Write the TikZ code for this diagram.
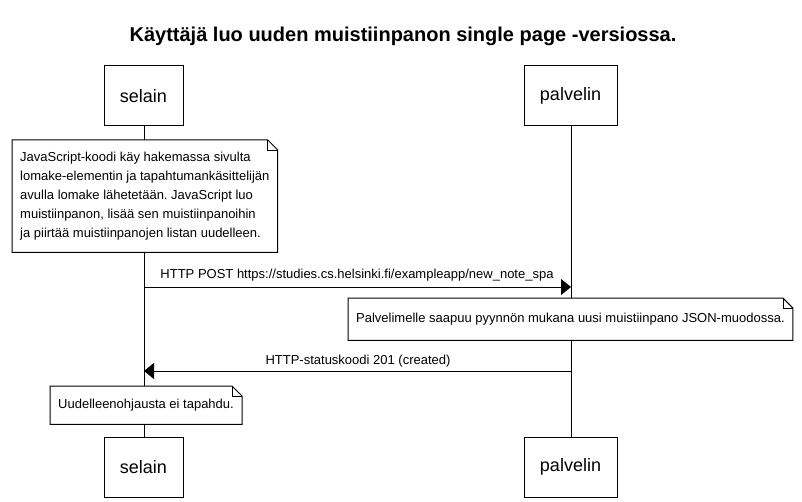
\documentclass[tikz,border=0pt]{standalone}
\usepackage{fontspec}
\setmainfont{Liberation Sans}
\frenchspacing
\usetikzlibrary{arrows.meta}
\begin{document}
\begin{tikzpicture}[x=1pt,y=-1pt,
  actor/.style={draw, fill=white, line width=1pt, inner sep=0pt,
    minimum height=60pt, font=\fontsize{18}{21}\selectfont},
  notebox/.style={fill=white, inner xsep=8pt, inner ysep=0pt, anchor=north west,
    align=left, font=\fontsize{13}{19}\selectfont},
  lifeline/.style={line width=1pt},
  msg/.style={line width=1pt, -{Triangle[length=10pt,width=16pt]}},
  msglabel/.style={font=\fontsize{13}{15}\selectfont, anchor=south, inner sep=0pt},
  notebord/.style={line width=1pt, line join=miter},
  fold/.style={line width=0.6pt}
]
\useasboundingbox (0,0) rectangle (802,502);
\fill[white] (0,0) rectangle (802,502);

\node[font=\bfseries\fontsize{20}{24}\selectfont] (title) at (403,36) {Käyttäjä luo uuden muistiinpanon single page -versiossa.};

% actors
\node[actor, minimum width=79pt] (s1) at (143.5,96) {selain};
\node[actor, minimum width=93pt] (p1) at (570.5,96) {palvelin};
\node[actor, minimum width=79pt] (s2) at (143.5,467) {selain};
\node[actor, minimum width=93pt] (p2) at (570.5,467) {palvelin};

\coordinate (sx) at (144,0);
\coordinate (px) at (571,0);
\draw[lifeline] (s1.south -| sx) -- (s2.north -| sx);
\draw[lifeline] (p1.south -| px) -- (p2.north -| px);

% note 1
\node[notebox, minimum height=112pt] (n1) at (12,140)
 {JavaScript-koodi käy hakemassa sivulta\\lomake-elementin ja tapahtumankäsittelijän\\avulla lomake lähetetään. JavaScript luo\\muistiinpanon, lisää sen muistiinpanoihin\\ja piirtää muistiinpanojen listan uudelleen.};
\draw[notebord] (n1.north west) -- ([xshift=-10pt]n1.north east) -- ([yshift=-10pt]n1.north east) -- (n1.south east) -- (n1.south west) -- cycle;
\draw[fold] ([xshift=-10pt]n1.north east) -- ([xshift=-10pt,yshift=-10pt]n1.north east) -- ([yshift=-10pt]n1.north east);

% message 1
\coordinate (m1a) at (144,287);
\coordinate (m1b) at (571,287);
\draw[msg] (m1a) -- (m1b);
\node[msglabel] (l1) at (357,281) {HTTP POST https://studies.cs.helsinki.fi/exampleapp/new\_note\_spa};

% note 2
\node[notebox, minimum height=42pt] (n2) at (348,298)
 {Palvelimelle saapuu pyynnön mukana uusi muistiinpano JSON-muodossa.};
\draw[notebord] (n2.north west) -- ([xshift=-10pt]n2.north east) -- ([yshift=-10pt]n2.north east) -- (n2.south east) -- (n2.south west) -- cycle;
\draw[fold] ([xshift=-10pt]n2.north east) -- ([xshift=-10pt,yshift=-10pt]n2.north east) -- ([yshift=-10pt]n2.north east);

% message 2
\coordinate (m2a) at (571,371);
\coordinate (m2b) at (144,371);
\draw[msg] (m2a) -- (m2b);
\node[msglabel] (l2) at (358,367) {HTTP-statuskoodi 201 (created)};

% note 3
\node[notebox, minimum height=38pt] (n3) at (50,386)
 {Uudelleenohjausta ei tapahdu.};
\draw[notebord] (n3.north west) -- ([xshift=-10pt]n3.north east) -- ([yshift=-10pt]n3.north east) -- (n3.south east) -- (n3.south west) -- cycle;
\draw[fold] ([xshift=-10pt]n3.north east) -- ([xshift=-10pt,yshift=-10pt]n3.north east) -- ([yshift=-10pt]n3.north east);
\end{tikzpicture}
\end{document}
